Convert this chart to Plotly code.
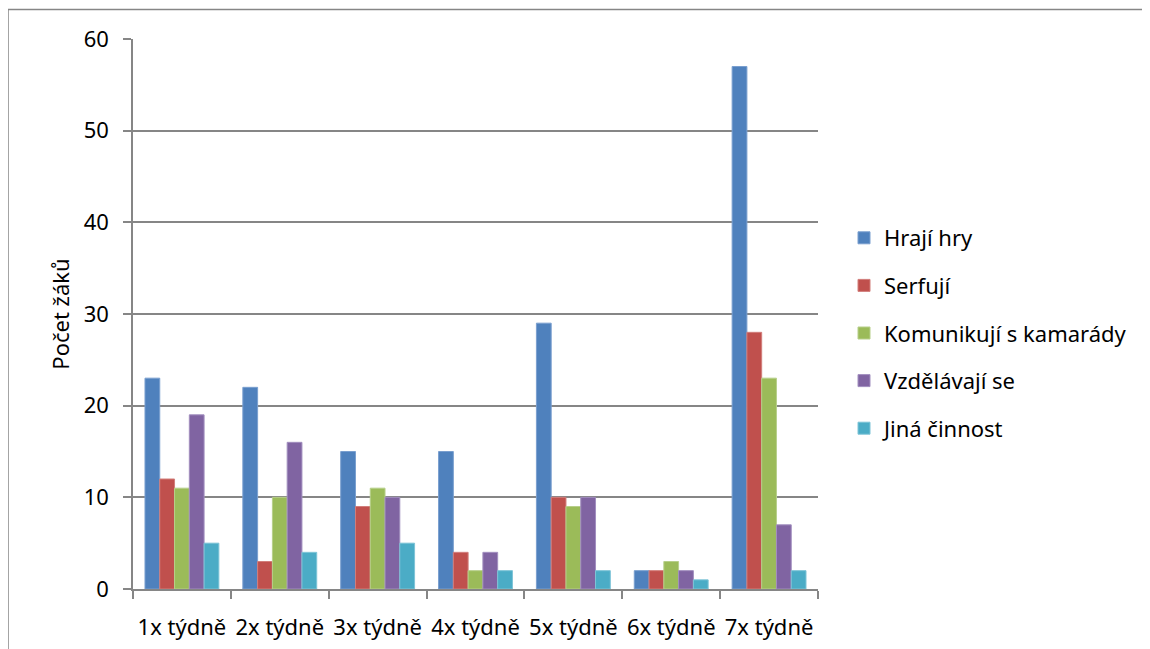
import plotly.graph_objects as go

categories = ["1x týdně", "2x týdně", "3x týdně", "4x týdně", "5x týdně", "6x týdně", "7x týdně"]
hraji_hry = [23, 22, 15, 15, 29, 2, 57]
serfuji = [12, 3, 9, 4, 10, 2, 28]
komunikuji = [11, 10, 11, 2, 9, 3, 23]
vzdelavaji = [19, 16, 10, 4, 10, 2, 7]
jina = [5, 4, 5, 2, 2, 1, 2]
series_names = ["Hrají hry", "Serfují", "Komunikují s kamarády", "Vzdělávají se", "Jiná činnost"]
y_ticks = [0, 10, 20, 30, 40, 50, 60]

colors = ["#4F81BD", "#C0504D", "#9BBB59", "#8064A2", "#4BACC6"]
line_colors = ["#7A9FCF", "#D27E7B", "#B7CF8A", "#A28FBF", "#7EC4D7"]
series = [hraji_hry, serfuji, komunikuji, vzdelavaji, jina]

FONT = "Noto Sans"
FS = 22

fig = go.Figure()
for i, (name, vals) in enumerate(zip(series_names, series)):
    fig.add_trace(go.Bar(
        x=categories, y=vals, name=name,
        marker=dict(color=colors[i], line=dict(color=line_colors[i], width=1)),
        legendgroup=f"g{i}",
    ))

# page body has 8px margin: figure coords = screen coords - 8
OFF = 8
W, H = 1150 - OFF, 649 - OFF
L = 133 - OFF
T = 39 - OFF
R = W - (818 - OFF)
B = H - (589 - OFF)
pw = W - L - R
ph = H - T - B

def px_x(p):  # screen px -> paper
    return (p - OFF - L) / pw

def px_y(p):
    return (H - B - (p - OFF)) / ph

border = dict(color="#868686", width=1.5)

fig.update_layout(
    width=W, height=H,
    margin=dict(l=L, r=R, t=T, b=B, pad=0, autoexpand=False),
    paper_bgcolor="white", plot_bgcolor="white",
    barmode="group", bargap=0.245, bargroupgap=0,
    font=dict(family=FONT, size=FS, color="#000000"),
    showlegend=True,
    legend=dict(
        x=px_x(844), y=px_y(217), xanchor="left", yanchor="top",
        font=dict(family=FONT, size=FS, color="#000000"),
        tracegroupgap=16, itemwidth=30,
        bgcolor="rgba(0,0,0,0)",
    ),
    xaxis=dict(
        showline=True, linecolor="#868686", linewidth=1.5,
        ticks="outside", ticklen=8, tickcolor="#868686", tickwidth=1.5,
        tickson="boundaries", showgrid=False,
        tickfont=dict(family=FONT, size=22),
        tickangle=0, automargin=False,
        ticklabelstandoff=18,
        fixedrange=True,
    ),
    yaxis=dict(
        range=[0, 60], tickvals=y_ticks,
        showline=True, linecolor="#868686", linewidth=1.5,
        ticks="outside", ticklen=8, tickcolor="#868686", tickwidth=1.5,
        showgrid=True, gridcolor="#868686", gridwidth=1.5,
        zeroline=False, automargin=False,
        tickfont=dict(family=FONT, size=FS),
        ticklabelstandoff=10,
        title=dict(text="Počet žáků", font=dict(family=FONT, size=FS), standoff=8),
    ),
    shapes=[
        dict(type="line", xref="paper", yref="paper",
             x0=px_x(8), x1=px_x(8), y0=px_y(700), y1=px_y(9.5),
             line=border, layer="below"),
        dict(type="line", xref="paper", yref="paper",
             x0=px_x(8), x1=px_x(1200), y0=px_y(9.5), y1=px_y(9.5),
             line=border, layer="below"),
    ],
)

fig.write_html("out.html")
